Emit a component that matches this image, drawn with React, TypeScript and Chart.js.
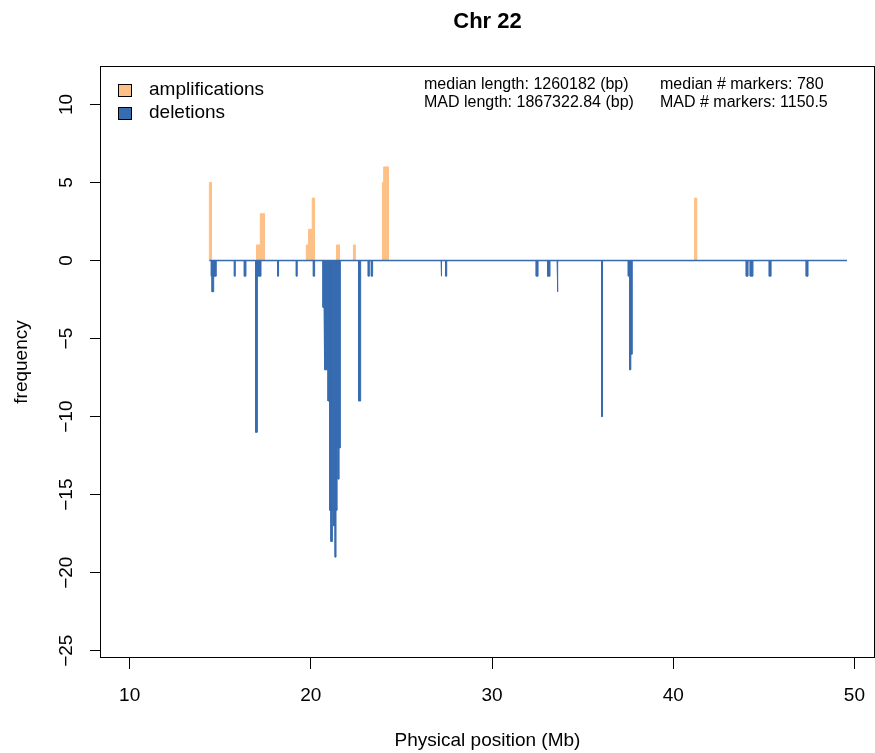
import React, { useEffect, useRef } from 'react';
import { Chart, registerables } from 'chart.js';

Chart.register(...registerables);

const FONT = '"Liberation Sans", Arial, Helvetica, sans-serif';
const AMP_COLOR = '#FDC086';
const DEL_COLOR = '#386CB0';

const titleText = 'Chr 22';
const xTitle = 'Physical position (Mb)';
const yTitle = 'frequency';
const legendLabels = ['amplifications', 'deletions'];
const statsLeft = ['median length: 1260182 (bp)', 'MAD length: 1867322.84 (bp)'];
const statsRight = ['median # markers: 780', 'MAD # markers: 1150.5'];

const xTicks = [10, 20, 30, 40, 50];
const yTicks = [-25, -20, -15, -10, -5, 0, 5, 10];
const xRange = [8.42, 51.08];
const yRange = [-25.4, 12.4];

// amplification segments (Mb) and frequency
const ampStart = [14.40, 17.00, 17.21, 19.75, 19.88, 20.08, 21.42, 22.35, 23.95, 24.02, 41.18];
const ampEnd = [14.51, 17.21, 17.43, 19.86, 20.07, 20.19, 21.57, 22.44, 24.02, 24.28, 41.29];
const ampValue = [5, 1, 3, 1, 2, 4, 1, 1, 5, 6, 4];

// deletion segments (Mb) and frequency
const delStart = [14.51, 14.55, 14.64, 15.78, 16.33, 16.95, 17.05, 18.17, 19.20, 20.14,
  20.67, 20.73, 20.76, 20.78, 20.95, 21.04, 21.11, 21.19, 21.26, 21.34, 21.39, 21.45, 21.50, 21.56,
  22.64, 23.17, 23.34, 27.19, 27.44, 32.44, 33.07, 33.59, 36.05, 37.52, 37.60, 37.66,
  44.03, 44.25, 45.30, 47.34];
const delEnd = [14.55, 14.64, 14.78, 15.83, 16.42, 17.05, 17.25, 18.22, 19.25, 20.21,
  20.73, 20.76, 20.78, 20.95, 21.04, 21.11, 21.19, 21.26, 21.34, 21.39, 21.45, 21.50, 21.56, 21.63,
  22.75, 23.23, 23.41, 27.22, 27.50, 32.54, 33.20, 33.64, 36.10, 37.60, 37.66, 37.74,
  44.13, 44.40, 45.40, 47.44];
const delValue = [-1, -2, -1, -1, -1, -11, -1, -1, -1, -1,
  -3, -4, -6, -7, -9, -16, -18, -16, -17, -19, -16, -12, -14, -12,
  -9, -1, -1, -1, -1, -1, -1, -2, -10, -1, -7, -6,
  -1, -1, -1, -1];

// baseline extent (Mb)
const baselineX = [14.40, 49.59];

function toPoints(starts: number[], ends: number[], vals: number[]) {
  const pts: { x: number; y: number }[] = [];
  for (let i = 0; i < starts.length; i++) {
    pts.push({ x: starts[i], y: 0 }, { x: starts[i], y: vals[i] }, { x: ends[i], y: vals[i] }, { x: ends[i], y: 0 });
  }
  return pts;
}

function fmt(v: number) {
  return v < 0 ? '\u2212' + Math.abs(v) : String(v);
}

export default function App() {
  const ref = useRef<HTMLCanvasElement>(null);

  useEffect(() => {
    const canvas = ref.current!;
    const textPlugin = {
      id: 'rText',
      afterDraw(chart: any) {
        const ctx = chart.ctx as CanvasRenderingContext2D;
        const a = chart.chartArea;
        const cx = (a.left + a.right) / 2;
        ctx.save();
        // box
        ctx.strokeStyle = '#000';
        ctx.lineWidth = 1;
        ctx.strokeRect(a.left - 0.5, a.top - 0.5, a.right - a.left + 1, a.bottom - a.top + 1);
        ctx.fillStyle = '#000';
        // title
        ctx.font = 'bold 22px ' + FONT;
        ctx.textAlign = 'center';
        ctx.textBaseline = 'alphabetic';
        ctx.fillText(titleText, cx, 28);
        // x title
        ctx.font = '19px ' + FONT;
        ctx.textBaseline = 'middle';
        ctx.fillText(xTitle, cx, 741);
        // y title
        ctx.save();
        ctx.translate(22, (a.top + a.bottom) / 2);
        ctx.rotate(-Math.PI / 2);
        ctx.fillText(yTitle, 0, 0);
        ctx.restore();
        // legend
        const colors = [AMP_COLOR, DEL_COLOR];
        const ly = [84, 107];
        ctx.textAlign = 'left';
        for (let i = 0; i < 2; i++) {
          ctx.fillStyle = colors[i];
          ctx.fillRect(118, ly[i], 13, 12);
          ctx.strokeStyle = '#000';
          ctx.strokeRect(118.5, ly[i] + 0.5, 13, 12);
          ctx.fillStyle = '#000';
          ctx.font = '19px ' + FONT;
          ctx.fillText(legendLabels[i], 149, ly[i] + 6);
        }
        // stats
        ctx.font = '16px ' + FONT;
        const sy = [85, 103];
        for (let i = 0; i < 2; i++) {
          ctx.fillText(statsLeft[i], 424, sy[i]);
          ctx.fillText(statsRight[i], 660, sy[i]);
        }
        ctx.restore();
      },
    };

    const chart = new Chart(canvas, {
      type: 'line',
      data: {
        datasets: [
          {
            label: 'baseline',
            data: [{ x: baselineX[0], y: 0 }, { x: baselineX[1], y: 0 }],
            borderColor: DEL_COLOR,
            borderWidth: 1.6,
            pointRadius: 0,
            fill: false,
          },
          {
            label: 'deletions',
            data: toPoints(delStart, delEnd, delValue),
            borderColor: DEL_COLOR,
            backgroundColor: DEL_COLOR,
            borderWidth: 1,
            pointRadius: 0,
            fill: 'origin',
          },
          {
            label: 'amplifications',
            data: toPoints(ampStart, ampEnd, ampValue),
            borderColor: AMP_COLOR,
            backgroundColor: AMP_COLOR,
            borderWidth: 1,
            pointRadius: 0,
            fill: 'origin',
          },
        ],
      },
      options: {
        responsive: false,
        animation: false,
        devicePixelRatio: 1,
        layout: { padding: { top: 67, right: 1, left: 0, bottom: 0 } },
        plugins: {
          legend: { display: false },
          tooltip: { enabled: false },
          title: { display: false },
        },
        elements: { line: { tension: 0 }, point: { radius: 0 } },
        scales: {
          x: {
            type: 'linear',
            min: xRange[0],
            max: xRange[1],
            afterBuildTicks: (s: any) => {
              s.ticks = xTicks.map((v) => ({ value: v }));
            },
            afterFit: (s: any) => {
              s.height = 96;
              s.paddingLeft = 0;
              s.paddingRight = 0;
            },
            grid: { drawOnChartArea: false, drawTicks: true, tickLength: 12, color: '#000', lineWidth: 1 },
            border: { display: false },
            ticks: {
              color: '#000',
              font: { family: FONT, size: 19 },
              padding: 15,
              minRotation: 0,
              maxRotation: 0,
              autoSkip: false,
              callback: (v: any) => fmt(Number(v)),
            },
          },
          y: {
            type: 'linear',
            min: yRange[0],
            max: yRange[1],
            afterBuildTicks: (s: any) => {
              s.ticks = yTicks.map((v) => ({ value: v }));
            },
            afterFit: (s: any) => {
              s.width = 101;
              s.paddingTop = 0;
              s.paddingBottom = 0;
            },
            grid: { drawOnChartArea: false, drawTicks: true, tickLength: 11, color: '#000', lineWidth: 1 },
            border: { display: false },
            ticks: {
              color: '#000',
              font: { family: FONT, size: 19 },
              padding: 7,
              minRotation: 90,
              maxRotation: 90,
              crossAlign: 'center',
              autoSkip: false,
              callback: (v: any) => fmt(Number(v)),
            },
          },
        },
      } as any,
      plugins: [textPlugin],
    });
    return () => chart.destroy();
  }, []);

  return (
    <div style={{ position: 'fixed', left: 0, top: 0, width: 875, height: 753, background: '#fff' }}>
      <canvas ref={ref} width={875} height={753} style={{ display: 'block', width: 875, height: 753 }} />
    </div>
  );
}
